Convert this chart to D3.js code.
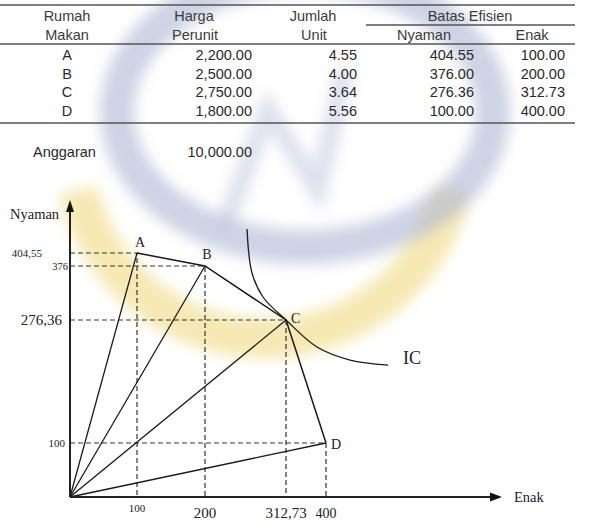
<!DOCTYPE html>
<html>
<head>
<meta charset="utf-8">
<script src="https://cdn.jsdelivr.net/npm/d3@7"></script>
<style>
  body { margin: 0; background: #fff; }
  svg { display: block; }
  .tbl { font-family: "Liberation Sans", Arial, sans-serif; font-size: 14.5px; fill: #2a2a2a; }
  .hdr { fill: #3a3a3a; }
  .ser { font-family: "Liberation Serif", "Times New Roman", serif; fill: #222; }
</style>
</head>
<body>
<svg id="chart" width="592" height="527"></svg>
<script>
(function() {
  // table data
  var rumah  = ["A", "B", "C", "D"];
  var harga  = [2200, 2500, 2750, 1800];
  var jumlah = [4.55, 4.00, 3.64, 5.56];
  var nyaman = [404.55, 376.00, 276.36, 100.00];
  var enak   = [100.00, 200.00, 312.73, 400.00];
  var anggaran = 10000;

  // chart tick labels
  var xTicks = [100, 200, 312.73, 400];
  var xTickLabels = ["100", "200", "312,73", "400"];
  var yTicks = [100, 276.36, 376, 404.55];
  var yTickLabels = ["100", "276,36", "376", "404,55"];

  // indifference curve (enak, nyaman)
  var icEnak   = [258.5, 265.4, 280.7, 312.73, 380.3, 421.8, 456.4];
  var icNyaman = [456.9, 363.1, 318.8, 276.36, 237.6, 219.0, 211.8];

  var svg = d3.select("#chart");
  var fmt = d3.format(",.2f");

  // faded watermark behind everything
  var defs = svg.append("defs");
  defs.append("filter").attr("id", "blur")
    .append("feGaussianBlur").attr("stdDeviation", 7);
  var wm = svg.append("g").attr("filter", "url(#blur)");
  wm.append("path")
    .attr("d", "M78,190 A192,192 0 0 0 452,190")
    .attr("fill", "none").attr("stroke", "#f5e4a0").attr("stroke-width", 40).attr("opacity", 0.8);
  wm.append("ellipse")
    .attr("cx", 305).attr("cy", 112).attr("rx", 188).attr("ry", 135)
    .attr("fill", "none").attr("stroke", "#aeb6d4").attr("stroke-width", 34).attr("opacity", 0.6);
  wm.append("path")
    .attr("d", "M225,225 L268,110 L318,190 L345,70")
    .attr("fill", "none").attr("stroke", "#b4bcd8").attr("stroke-width", 18).attr("opacity", 0.45);

  // ---------- table ----------
  var tbl = svg.append("g").attr("class", "tbl");
  var rule = function(x1, x2, y) {
    tbl.append("line").attr("x1", x1).attr("x2", x2).attr("y1", y).attr("y2", y)
      .attr("stroke", "#555").attr("stroke-width", 1.5);
  };
  rule(0, 575, 5);
  rule(366, 575, 25);
  rule(0, 575, 44);
  rule(0, 575, 123);

  var head = function(x, y, t, anchor) {
    tbl.append("text").attr("class", "hdr").attr("x", x).attr("y", y)
      .attr("text-anchor", anchor || "middle").attr("dy", "0.35em").text(t);
  };
  head(67, 16, "Rumah"); head(67, 35, "Makan");
  head(194, 16, "Harga"); head(195, 35, "Perunit");
  head(313, 16, "Jumlah"); head(314, 35, "Unit");
  head(470, 16, "Batas Efisien");
  head(424, 35, "Nyaman"); head(532, 35, "Enak");

  var rowY = d3.scalePoint().domain(rumah).range([55, 111]);
  var cols = [
    { vals: rumah,  x: 67,  anchor: "middle", f: String },
    { vals: harga,  x: 252, anchor: "end",    f: fmt },
    { vals: jumlah, x: 357, anchor: "end",    f: d3.format(".2f") },
    { vals: nyaman, x: 474, anchor: "end",    f: d3.format(".2f") },
    { vals: enak,   x: 565, anchor: "end",    f: d3.format(".2f") }
  ];
  cols.forEach(function(c) {
    tbl.append("g").selectAll("text").data(c.vals).enter().append("text")
      .attr("x", c.x).attr("y", function(d, i) { return rowY(rumah[i]); })
      .attr("dy", "0.35em").attr("text-anchor", c.anchor)
      .text(function(d) { return c.f(d); });
  });

  tbl.append("text").attr("x", 33).attr("y", 152).attr("dy", "0.35em").text("Anggaran");
  tbl.append("text").attr("x", 252).attr("y", 152).attr("dy", "0.35em")
    .attr("text-anchor", "end").text(fmt(anggaran));

  // ---------- diagram ----------
  // hand drawn diagram: polylinear scales through the labelled values
  var x = d3.scaleLinear()
    .domain([0].concat(xTicks, [560]))
    .range([70, 137, 205, 286, 326, 502]);
  var y = d3.scaleLinear()
    .domain([0].concat(yTicks, [520]))
    .range([497, 443, 320, 266, 253, 200]);

  var g = svg.append("g");
  var pts = rumah.map(function(r, i) { return { r: r, e: enak[i], n: nyaman[i] }; });

  // dashed guides
  g.append("g").selectAll("path").data(pts).enter().append("path")
    .attr("d", function(d) {
      return "M" + x(0) + "," + y(d.n) + "H" + x(d.e) + "V" + y(0);
    })
    .attr("fill", "none").attr("stroke", "#333").attr("stroke-width", 1.2)
    .attr("stroke-dasharray", "5,3");

  // rays from origin
  g.append("g").selectAll("line").data(pts).enter().append("line")
    .attr("x1", x(0)).attr("y1", y(0))
    .attr("x2", function(d) { return x(d.e); })
    .attr("y2", function(d) { return y(d.n); })
    .attr("stroke", "#1a1a1a").attr("stroke-width", 1.3);

  // efficiency frontier
  g.append("path").datum(pts)
    .attr("d", d3.line().x(function(d) { return x(d.e); }).y(function(d) { return y(d.n); }))
    .attr("fill", "none").attr("stroke", "#1a1a1a").attr("stroke-width", 1.5);

  // IC curve
  g.append("path").datum(d3.range(icEnak.length))
    .attr("d", d3.line().curve(d3.curveCatmullRom.alpha(0.5))
      .x(function(i) { return x(icEnak[i]); }).y(function(i) { return y(icNyaman[i]); }))
    .attr("fill", "none").attr("stroke", "#1a1a1a").attr("stroke-width", 1.3);
  g.append("text").attr("class", "ser").attr("x", 403).attr("y", 358).attr("dy", "0.35em")
    .style("font-size", "18px").text("IC");

  // axes
  var x0 = x(0), y0 = y(0), xEnd = x(560), yEnd = y(520);
  g.append("line").attr("x1", x0).attr("y1", y0).attr("x2", xEnd - 8).attr("y2", y0)
    .attr("stroke", "#222").attr("stroke-width", 2);
  g.append("line").attr("x1", x0).attr("y1", y0).attr("x2", x0).attr("y2", yEnd + 8)
    .attr("stroke", "#222").attr("stroke-width", 2);
  g.append("path").attr("d", "M" + xEnd + "," + y0 + "l-12,-4.5v9z").attr("fill", "#111");
  g.append("path").attr("d", "M" + x0 + "," + yEnd + "l-4,12h8z").attr("fill", "#111");

  g.append("text").attr("class", "ser").attr("x", 10).attr("y", 214).attr("dy", "0.35em")
    .style("font-size", "14.5px").text("Nyaman");
  g.append("text").attr("class", "ser").attr("x", 514).attr("y", 497).attr("dy", "0.35em")
    .style("font-size", "14.5px").text("Enak");

  var xTickSize = [11, 15, 15, 14];
  var yTickSize = [11, 15, 10.5, 11];
  var yTickRight = [65, 62, 68, 42];
  g.append("g").selectAll("text").data(xTicks).enter().append("text")
    .attr("class", "ser")
    .attr("x", function(d) { return x(d); })
    .attr("y", function(d, i) { return i === 0 ? 508 : 513; })
    .attr("dy", "0.35em").attr("text-anchor", "middle")
    .style("font-size", function(d, i) { return xTickSize[i] + "px"; })
    .text(function(d, i) { return xTickLabels[i]; });
  g.append("g").selectAll("text").data(yTicks).enter().append("text")
    .attr("class", "ser")
    .attr("x", function(d, i) { return yTickRight[i]; })
    .attr("y", function(d) { return y(d); })
    .attr("dy", "0.35em").attr("text-anchor", "end")
    .style("font-size", function(d, i) { return yTickSize[i] + "px"; })
    .text(function(d, i) { return yTickLabels[i]; });

  // point labels
  var lblOff = { A: [3, -11, "middle"], B: [2, -12, "middle"], C: [5, -2, "start"], D: [5, 1, "start"] };
  g.append("g").selectAll("text").data(pts).enter().append("text")
    .attr("class", "ser")
    .attr("x", function(d) { return x(d.e) + lblOff[d.r][0]; })
    .attr("y", function(d) { return y(d.n) + lblOff[d.r][1]; })
    .attr("dy", "0.35em").attr("text-anchor", function(d) { return lblOff[d.r][2]; })
    .style("font-size", "14px").text(function(d) { return d.r; });
})();
</script>
</body>
</html>
